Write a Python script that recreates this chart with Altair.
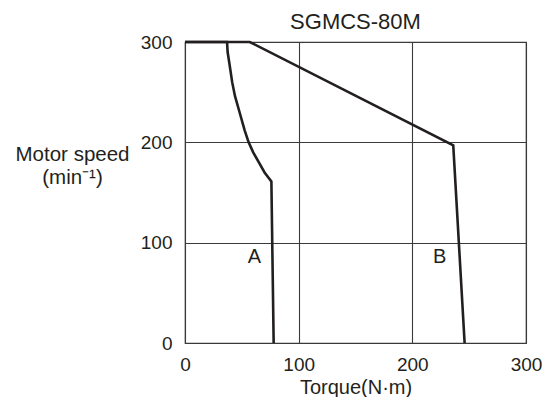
import altair as alt
import pandas as pd

# Curve A
a_torque = [0, 37, 37.5, 39, 41.5, 44, 48, 52.5, 56, 60, 65.5, 70, 76, 78]
a_speed = [300, 300, 290, 279, 260, 246, 230, 212, 200, 190, 179, 170, 161, 0]

# Curve B
b_torque = [0, 57, 236, 246]
b_speed = [300, 300, 197, 0]

label_text = ["A", "B"]
label_torque = [61, 224]
label_speed = [86, 86]

x_ticks = [0, 100, 200, 300]
y_ticks = [0, 100, 200, 300]

rows = []
for i, (t, s) in enumerate(zip(a_torque, a_speed)):
    rows.append({"curve": "A", "torque": t, "speed": s, "order": i})
for i, (t, s) in enumerate(zip(b_torque, b_speed)):
    rows.append({"curve": "B", "torque": t, "speed": s, "order": i})
df = pd.DataFrame(rows)
labels = pd.DataFrame({"text": label_text, "torque": label_torque, "speed": label_speed})

FONT = "Liberation Sans"
INK = "#231f20"

x_scale = alt.Scale(domain=[0, 300], nice=False)
y_scale = alt.Scale(domain=[0, 300], nice=False)

lines = alt.Chart(df).mark_line(color=INK, strokeWidth=2.6, strokeJoin="miter").encode(
    x=alt.X("torque:Q", scale=x_scale,
            axis=alt.Axis(values=x_ticks, title="Torque(N·m)", grid=True, ticks=False,
                          domain=False, labelPadding=12, titlePadding=3,
                          labelFontSize=19, titleFontSize=20, labelFont=FONT, titleFont=FONT,
                          labelColor=INK, titleColor=INK, titleFontWeight="normal",
                          gridColor="#3a3a3a", gridWidth=1.1, labelFlush=False)),
    y=alt.Y("speed:Q", scale=y_scale,
            axis=alt.Axis(values=y_ticks, title=["Motor speed", "(min⁻¹)"], grid=True,
                          ticks=False, domain=False, labelPadding=13,
                          labelFontSize=19, titleFontSize=20.5, labelFont=FONT, titleFont=FONT,
                          labelColor=INK, titleColor=INK, titleFontWeight="normal",
                          titleAngle=0, titleAlign="center", titleBaseline="top",
                          titleX=-113, titleY=102, titleLineHeight=23.5,
                          gridColor="#3a3a3a", gridWidth=1.1, labelFlush=False)),
    detail="curve:N",
    order="order:Q",
)

text = alt.Chart(labels).mark_text(font=FONT, fontSize=20, color=INK).encode(
    x=alt.X("torque:Q", scale=x_scale),
    y=alt.Y("speed:Q", scale=y_scale),
    text="text:N",
)

chart = (lines + text).properties(
    width=341,
    height=301,
    title=alt.TitleParams("SGMCS-80M", font=FONT, fontSize=22, fontWeight="normal",
                          color=INK, anchor="middle", offset=-1),
    autosize=alt.AutoSizeParams(type="none"),
    padding={"left": 177, "top": 34, "right": 24, "bottom": 54},
).configure_view(stroke="#3a3a3a", strokeWidth=1.2)

chart.save("out.html", embed_options={"renderer": "svg", "actions": False})
